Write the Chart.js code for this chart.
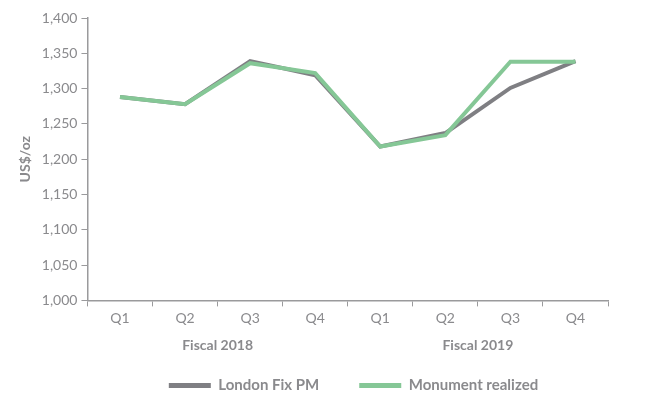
<!DOCTYPE html>
<html lang="en">
<head>
    <meta charset="UTF-8">
    <title>London Fix PM vs Monument realized</title>
    <script src="https://cdn.jsdelivr.net/npm/chart.js"></script>
    <style>
        html, body { margin: 0; padding: 0; background: #fff; }
        .wrap { width: 646px; height: 395px; }
    </style>
</head>
<body>
    <div class="wrap"><canvas id="grafico"></canvas></div>

    <script>
        const quarters = ['Q1', 'Q2', 'Q3', 'Q4', 'Q1', 'Q2', 'Q3', 'Q4'];
        const fiscalYears = ['Fiscal 2018', 'Fiscal 2019'];
        const londonFix = [1288, 1278, 1339, 1319, 1218, 1237, 1301, 1339];
        const monumentRealized = [1288, 1278, 1336, 1322, 1218, 1234, 1338, 1338];
        const yTicks = { min: 1000, max: 1400, step: 50 };

        const grey = '#8a8a8d';
        const lineGrey = '#7f7f83';
        const green = '#85c796';
        const axisGrey = '#9a9a9c';

        Chart.defaults.font.family = 'Lato, "Open Sans", sans-serif';
        Chart.defaults.color = grey;

        // the legend in the original sits a bit right of centre and lower
        const legendShift = {
            id: 'legendShift',
            afterLayout(chart) {
                const lg = chart.legend;
                if (!lg) return;
                const dx = 43, dy = 8;
                lg.left += dx; lg.right += dx;
                lg.top += dy; lg.bottom += dy;
                if (lg.legendHitBoxes) lg.legendHitBoxes.forEach(b => { b.left += dx; b.top += dy; });
            }
        };

        const ctx = document.getElementById('grafico').getContext('2d');
        new Chart(ctx, {
            type: 'line',
            data: {
                labels: quarters,
                datasets: [
                    {
                        label: 'London Fix PM',
                        data: londonFix,
                        borderColor: lineGrey,
                        backgroundColor: lineGrey,
                        borderWidth: 4,
                        pointRadius: 0,
                        tension: 0,
                        order: 2
                    },
                    {
                        label: 'Monument realized',
                        data: monumentRealized,
                        borderColor: green,
                        backgroundColor: green,
                        borderWidth: 4,
                        pointRadius: 0,
                        tension: 0,
                        order: 1
                    }
                ]
            },
            plugins: [legendShift],
            options: {
                responsive: true,
                maintainAspectRatio: false,
                animation: false,
                layout: { padding: { top: 18, right: 38, left: 13, bottom: 0 } },
                plugins: {
                    tooltip: { enabled: false },
                    legend: {
                        position: 'bottom',
                        labels: {
                            boxWidth: 42,
                            boxHeight: 5,
                            padding: 10,
                            color: grey,
                            font: { size: 15, weight: 'bold' },
                            generateLabels: function (chart) {
                                const items = Chart.defaults.plugins.legend.labels.generateLabels(chart);
                                items.sort((a, b) => a.datasetIndex - b.datasetIndex);
                                items.forEach(it => { it.lineWidth = 0; });
                                // extra room after the first entry
                                items[0].text += '\u2002\u2002\u2002\u2002';
                                return items;
                            }
                        }
                    }
                },
                scales: {
                    x: {
                        type: 'category',
                        offset: true,
                        grid: { offset: true, drawOnChartArea: false, tickLength: 6, color: axisGrey },
                        border: { color: axisGrey, width: 1.5 },
                        ticks: { color: grey, font: { size: 14 }, padding: 4 }
                    },
                    x2: {
                        type: 'category',
                        labels: fiscalYears,
                        position: 'bottom',
                        offset: true,
                        grid: { display: false, drawTicks: false },
                        border: { display: false },
                        ticks: { color: grey, font: { size: 14, weight: 'bold' }, padding: 6 }
                    },
                    y: {
                        min: yTicks.min,
                        max: yTicks.max,
                        grid: { drawOnChartArea: false, tickLength: 6, color: axisGrey },
                        border: { color: axisGrey, width: 1.5 },
                        ticks: {
                            stepSize: yTicks.step,
                            color: grey,
                            font: { size: 14 },
                            padding: 4,
                            callback: v => v.toLocaleString('en-US')
                        },
                        title: {
                            display: true,
                            text: 'US$/oz',
                            color: grey,
                            font: { size: 14, weight: 'bold' },
                            padding: 4
                        }
                    }
                }
            }
        });
    </script>
</body>
</html>
